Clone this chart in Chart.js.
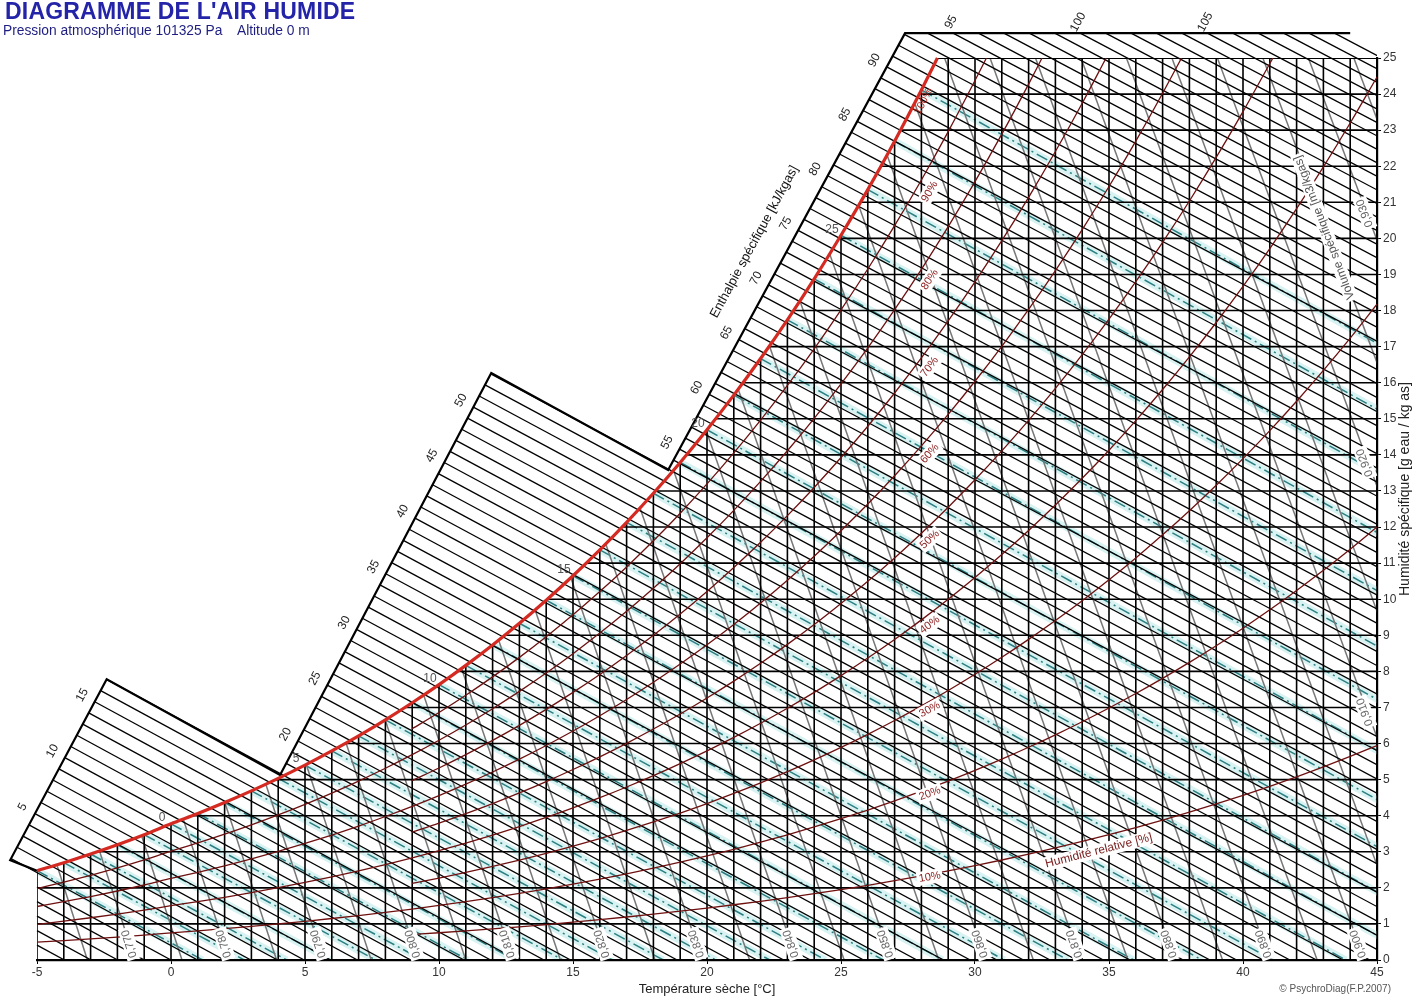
<!DOCTYPE html>
<html>
<head>
<meta charset="utf-8">
<script src="https://cdn.jsdelivr.net/npm/chart.js@4.4.1/dist/chart.umd.min.js"></script>
<style>
  body { margin: 0; background: #fff; }
  #wrap { position: relative; width: 1415px; height: 1000px; }
  #chart { position: absolute; left: 0; top: 0; }
  .title { position: absolute; left: 5px; top: -2px; font: bold 23px "Liberation Sans", Arial, sans-serif; color: #2424a8; letter-spacing: 0.2px; }
  .sub { position: absolute; left: 3px; top: 23px; font: 13.8px "Liberation Sans", Arial, sans-serif; color: #1e1e80; white-space: pre; }
  .copy { position: absolute; right: 24px; top: 983px; font: 10px "Liberation Sans", Arial, sans-serif; color: #555; }
</style>
</head>
<body>
<div id="wrap">
  <canvas id="chart" width="1415" height="1000"></canvas>
  <div class="title">DIAGRAMME DE L'AIR HUMIDE</div>
  <div class="sub">Pression atmosphérique 101325 Pa    Altitude 0 m</div>
  <div class="copy">© PsychroDiag(F.P.2007)</div>
</div>
<script>
// axes
const tempTicks = [-5, 0, 5, 10, 15, 20, 25, 30, 35, 40, 45];
const humidityTicks = [0, 1, 2, 3, 4, 5, 6, 7, 8, 9, 10, 11, 12, 13, 14, 15, 16, 17, 18, 19, 20, 21, 22, 23, 24, 25];

// saturation vapour pressure [Pa], one value per degree (ice below 0)
const satTemps = [-5, -4, -3, -2, -1, 0, 1, 2, 3, 4, 5, 6, 7, 8, 9, 10, 11, 12, 13, 14, 15, 16, 17, 18, 19, 20,
  21, 22, 23, 24, 25, 26, 27, 28, 29, 30, 31, 32, 33, 34, 35, 36, 37, 38, 39, 40, 41, 42, 43, 44, 45];
const satPressure = [401.7, 437.5, 476.2, 517.7, 562.5, 611.2, 657.1, 706.0, 758.0, 813.5, 872.5, 935.3, 1002.0,
  1072.9, 1148.2, 1228.1, 1312.9, 1402.7, 1497.9, 1598.8, 1705.6, 1818.5, 1938.0, 2064.4, 2197.8, 2338.8,
  2487.7, 2644.7, 2810.4, 2985.0, 3169.9, 3362.9, 3567.0, 3781.8, 4007.8, 4245.5, 4495.3, 4757.8, 5033.5,
  5322.9, 5626.7, 5945.3, 6279.5, 6629.8, 6996.9, 7381.4, 7784.0, 8205.4, 8646.4, 9107.6, 9589.8];

// relative humidity curves and the temperature each one starts at
const rhLevels = [10, 20, 30, 40, 50, 60, 70, 80, 90];
const rhStart = [9, -5, 9, -5, 9, -5, 9, -5, 9];

// wet bulb lines, one per degree on the saturation curve
const wetBulbTemps = [-5, -4, -3, -2, -1, 0, 1, 2, 3, 4, 5, 6, 7, 8, 9, 10, 11, 12, 13, 14, 15, 16, 17, 18, 19,
  20, 21, 22, 23, 24, 25, 26, 27, 28];

// specific volume lines [m3/kgas]
const volumeLevels = [0.765, 0.770, 0.775, 0.780, 0.785, 0.790, 0.795, 0.800, 0.805, 0.810, 0.815, 0.820, 0.825,
  0.830, 0.835, 0.840, 0.845, 0.850, 0.855, 0.860, 0.865, 0.870, 0.875, 0.880, 0.885, 0.890, 0.895, 0.900,
  0.905, 0.910, 0.915, 0.920, 0.925, 0.930, 0.935];
const volumeBottomLabels = [0.770, 0.780, 0.790, 0.800, 0.810, 0.820, 0.830, 0.840, 0.850, 0.860, 0.870, 0.880, 0.890, 0.900];
const volumeRightLabels = [0.910, 0.920, 0.930];

// enthalpy lines [kJ/kgas] and the stepped enthalpy scale (corners, t / w)
const enthalpyFirst = -5;
const enthalpyLast = 110;
const enthalpyLabels = [5, 10, 15, 20, 25, 30, 35, 40, 45, 50, 55, 60, 65, 70, 75, 80, 85, 90, 95, 100, 105];
const scaleCorners = [[-6.0, 2.77], [-2.40, 7.78], [4.07, 5.13], [11.95, 16.27], [18.55, 13.58], [27.39, 25.69], [44.0, 25.69]];

// labels along the saturation curve
const satLabelTemps = [0, 5, 10, 15, 20, 25];

const FONT = '"Liberation Sans", Arial, sans-serif';
const P_ATM = 101325;

function psat(t) {
    let i = Math.floor(t - satTemps[0]);
    i = Math.max(0, Math.min(satPressure.length - 2, i));
    const f = t - satTemps[i];
    return Math.exp(Math.log(satPressure[i]) * (1 - f) + Math.log(satPressure[i + 1]) * f);
}
function humidity(phi, t) {
    const pv = phi * psat(t);
    return 622 * pv / (P_ATM - pv);
}
function enthalpy(t, w) {
    return 1.006 * t + w / 1000 * (2501 + 1.86 * t);
}
// root of an increasing function
function bisect(fn, lo, hi) {
    for (let k = 0; k < 60; k++) {
        const m = (lo + hi) / 2;
        if (fn(m) > 0) hi = m; else lo = m;
    }
    return (lo + hi) / 2;
}
function satTemp(w) { return bisect(t => humidity(1, t) - w, -10, 60); }
function volumeTemp(v, w) { return v * P_ATM / (287.055 * (1 + 1.6078e-3 * w)) - 273.15; }

const datasets = [];
function line(points, color, width, order, extra) {
    datasets.push(Object.assign({
        data: points, showLine: true, borderColor: color, borderWidth: width,
        pointRadius: 0, fill: false, order: order
    }, extra || {}));
}

// saturation curve
const tTop = satTemp(25);
const satPts = satTemps.filter(t => t < tTop).map(t => ({ x: t, y: humidity(1, t) }));
satPts.push({ x: tTop, y: 25 });
line(satPts, '#d42a22', 3.2, 0, { cubicInterpolationMode: 'monotone', clip: false });

// frame of the enthalpy scale
const frame = [{ x: -5, y: humidity(1, -5) }].concat(scaleCorners.map(c => ({ x: c[0], y: c[1] })));
line(frame, '#000', 2.2, 1, { clip: false });

// relative humidity curves
rhLevels.forEach((rh, k) => {
    const phi = rh / 100;
    const pts = [];
    satTemps.forEach(t => {
        if (t < rhStart[k]) return;
        const w = humidity(phi, t);
        if (w < 25) pts.push({ x: t, y: w });
    });
    const tEnd = bisect(t => humidity(phi, t) - 25, -5, 80);
    if (tEnd < 45) pts.push({ x: tEnd, y: 25 });
    line(pts, '#6e1010', 1.3, 2, { cubicInterpolationMode: 'monotone' });
});

// grid: one line per degree and per gram
for (let t = tempTicks[0]; t <= tempTicks[tempTicks.length - 1]; t++) {
    line([{ x: t, y: 0 }, { x: t, y: Math.min(25, humidity(1, t)) }], '#000', 1.6, 3);
}
humidityTicks.forEach(w => {
    const t0 = w <= humidity(1, -5) ? -5 : satTemp(w);
    line([{ x: t0, y: w }, { x: 45, y: w }], '#000', w === 0 || w === 25 ? 2.2 : 1.6, 3);
});

// enthalpy lines, starting on the stepped scale
const scaleSegs = [[0, 1], [2, 3], [4, 5], [5, 6]].map(p => {
    const a = scaleCorners[p[0]], b = scaleCorners[p[1]];
    return { a, b, ha: enthalpy(a[0], a[1]), hb: enthalpy(b[0], b[1]) };
});
function scalePoint(h) {
    let seg = scaleSegs.find(s => h <= s.hb + 1e-9) || scaleSegs[scaleSegs.length - 1];
    const at = s => [seg.a[0] + s * (seg.b[0] - seg.a[0]), seg.a[1] + s * (seg.b[1] - seg.a[1])];
    let s = bisect(u => enthalpy(...at(u)) - h, 0, 1);
    s = Math.max(0, Math.min(1, s));
    return { p: at(s), seg };
}
for (let h = enthalpyFirst; h <= enthalpyLast; h++) {
    let start;
    if (h <= scaleSegs[0].ha) {
        const w = (h - 1.006 * -5) / (2.501 - 0.0093);
        if (w <= 0) continue;
        start = [-5, w];
    } else {
        start = scalePoint(h).p;
    }
    line([{ x: start[0], y: start[1] }, { x: h / 1.006, y: 0 }], '#000', 1.3, 4,
        { clip: { left: false, top: false, right: 0, bottom: 0 } });
}

// specific volume lines
volumeLevels.forEach(v => {
    const f = w => humidity(1, volumeTemp(v, w)) - w;
    const wTop = f(25) > 0 ? 25 : bisect(w => -f(w), 0, 25);
    line([{ x: volumeTemp(v, 0), y: 0 }, { x: volumeTemp(v, wTop), y: wTop }], '#777', 1.5, 5);
});

// wet bulb lines
wetBulbTemps.forEach(tw => {
    const ws = humidity(1, tw);
    const tEnd = tw + ws * (2501 - 2.326 * tw) / 1000 / 1.006;
    const pts = [{ x: tw, y: ws }, { x: tEnd, y: 0 }];
    line(pts, '#2c7f82', 1.5, 6, { borderDash: [12, 4, 2, 4] });
    line(pts, '#d9f2f2', 7, 7);
});

function boxText(ctx, text, x, y, angle, font, color, bg) {
    ctx.save();
    ctx.translate(x, y);
    ctx.rotate(angle);
    ctx.font = font;
    const w = ctx.measureText(text).width;
    if (bg) {
        ctx.fillStyle = bg;
        ctx.fillRect(-w / 2 - 2, -7, w + 4, 14);
    }
    ctx.fillStyle = color;
    ctx.textAlign = 'center';
    ctx.textBaseline = 'middle';
    ctx.fillText(text, 0, 0);
    ctx.restore();
}

const labelPlugin = {
    id: 'labels',
    afterDraw(chart) {
        const ctx = chart.ctx;
        const X = t => chart.scales.x.getPixelForValue(t);
        const Y = w => chart.scales.y.getPixelForValue(w);

        // enthalpy scale labels
        const s3 = scaleSegs[2];
        const scaleAngle = Math.atan2(Y(s3.b[1]) - Y(s3.a[1]), X(s3.b[0]) - X(s3.a[0]));
        const out = [Math.cos(scaleAngle - Math.PI / 2), Math.sin(scaleAngle - Math.PI / 2)];
        enthalpyLabels.forEach(h => {
            const sp = scalePoint(h);
            let px = X(sp.p[0]), py = Y(sp.p[1]);
            if (sp.seg === scaleSegs[3]) { px -= 2; py -= 11; }
            else { px += out[0] * 14; py += out[1] * 14; }
            boxText(ctx, String(h), px, py, scaleAngle, '12px ' + FONT, '#222');
        });
        const tp = scalePoint(72.5).p;
        boxText(ctx, 'Enthalpie spécifique [kJ/kgas]', X(tp[0]) + out[0] * 33, Y(tp[1]) + out[1] * 33,
            scaleAngle, '13px ' + FONT, '#111');

        // temperatures on the saturation curve
        satLabelTemps.forEach(t => {
            boxText(ctx, String(t), X(t) - 9, Y(humidity(1, t)) - 6, 0, '12px ' + FONT, '#555');
        });

        // relative humidity labels, just right of their curve
        const tr = 27.75;
        rhLevels.forEach(rh => {
            const phi = rh / 100;
            const a = Math.atan2(Y(humidity(phi, tr + 0.3)) - Y(humidity(phi, tr - 0.3)), X(tr + 0.3) - X(tr - 0.3));
            boxText(ctx, rh + '%', X(tr) + 15, Y(humidity(phi, tr)), a, '11px ' + FONT, '#8b1c1c', '#fff');
        });
        {
            const t = satTemp(23.8);
            const a = Math.atan2(Y(humidity(1, t + 0.3)) - Y(humidity(1, t - 0.3)), X(t + 0.3) - X(t - 0.3));
            boxText(ctx, '100%', X(t) + 8, Y(23.8), a, '11px ' + FONT, '#b02a22');
        }
        {
            const t = 34.5, a = Math.atan2(Y(humidity(0.1, t + 0.5)) - Y(humidity(0.1, t - 0.5)), X(t + 0.5) - X(t - 0.5));
            const nx = -Math.sin(a), ny = Math.cos(a);
            boxText(ctx, 'Humidité relative [%]', X(t) + nx * 13, Y(humidity(0.1, t)) + ny * 13, a, '12px ' + FONT, '#7a2020', '#fff');
        }

        // specific volume labels
        const volAngle = v => Math.atan2(Y(20) - Y(0), X(volumeTemp(v, 20)) - X(volumeTemp(v, 0)));
        const fmt = v => v.toFixed(3).replace('.', ',');
        volumeBottomLabels.forEach(v => {
            boxText(ctx, fmt(v), X(volumeTemp(v, 0.45)), Y(0.45), volAngle(v), '11.5px ' + FONT, '#666', '#fff');
        });
        volumeRightLabels.forEach(v => {
            const t = 44.55;
            const w = (v * P_ATM / (287.055 * (t + 273.15)) - 1) / 1.6078e-3;
            boxText(ctx, fmt(v), X(t), Y(w), volAngle(v), '11.5px ' + FONT, '#666', '#fff');
        });
        boxText(ctx, 'Volume spécifique [m3/kgas]', X(volumeTemp(0.925, 20.3)), Y(20.3), volAngle(0.925),
            '12px ' + FONT, '#555', '#fff');

        // right axis title, reading upwards
        boxText(ctx, 'Humidité spécifique [g eau / kg as]', 1405, 489, -Math.PI / 2, '14px ' + FONT, '#222');
    }
};

Chart.defaults.font.family = FONT;
new Chart(document.getElementById('chart'), {
    type: 'scatter',
    data: { datasets },
    options: {
        responsive: false,
        animation: false,
        devicePixelRatio: 1,
        layout: { padding: { left: 37, top: 58, right: 0, bottom: 0 } },
        plugins: { legend: { display: false }, tooltip: { enabled: false } },
        scales: {
            x: {
                type: 'linear', position: 'bottom', min: tempTicks[0], max: tempTicks[tempTicks.length - 1],
                afterBuildTicks: s => { s.ticks = tempTicks.map(v => ({ value: v })); },
                afterFit: s => { s.height = 40; },
                grid: { drawOnChartArea: false, tickLength: 4, color: '#000' },
                border: { display: true, color: '#000', width: 2.2 },
                ticks: { color: '#333', font: { size: 12 }, padding: 1 },
                title: { display: true, text: 'Température sèche [°C]', color: '#222', font: { size: 13 }, padding: { top: 0, bottom: 3 } }
            },
            y: {
                type: 'linear', position: 'right', min: 0, max: 25,
                afterBuildTicks: s => { s.ticks = humidityTicks.map(v => ({ value: v })); },
                afterFit: s => { s.width = 38; },
                grid: { drawOnChartArea: false, tickLength: 4, color: '#000' },
                border: { display: true, color: '#000', width: 2.2 },
                ticks: { color: '#333', font: { size: 12 }, padding: 2, autoSkip: false }
            }
        }
    },
    plugins: [labelPlugin]
});
</script>
</body>
</html>
